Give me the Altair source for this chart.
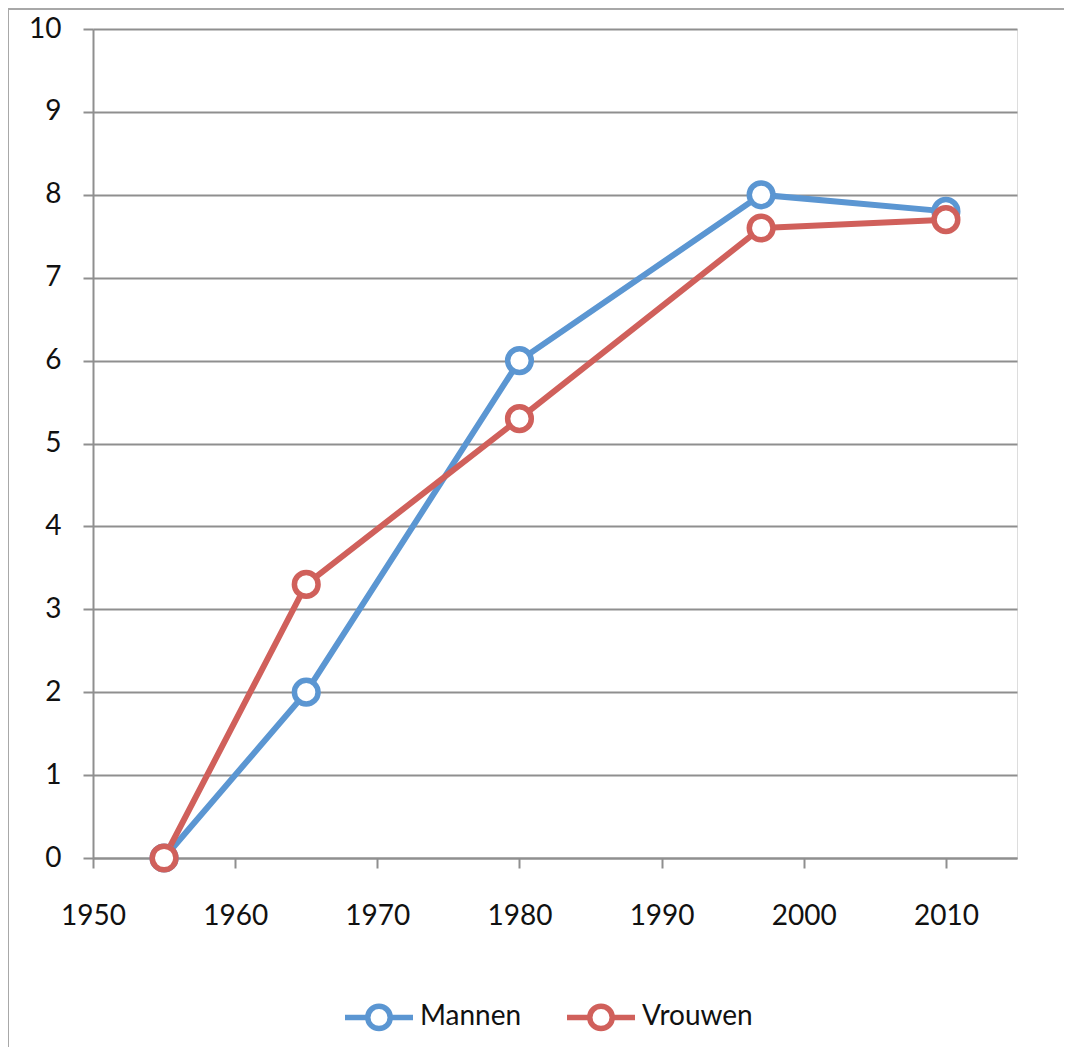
import altair as alt
import pandas as pd

years = [1955, 1965, 1980, 1997, 2010]
mannen = [0, 2, 6, 8, 7.8]
vrouwen = [0, 3.3, 5.3, 7.6, 7.7]
series = ["Mannen", "Vrouwen"]
colors = ["#5b96d2", "#d0605b"]
x_ticks = [1950, 1960, 1970, 1980, 1990, 2000, 2010]

rows = []
for s, vals in zip(series, [mannen, vrouwen]):
    for yr, v in zip(years, vals):
        rows.append({"jaar": yr, "waarde": v, "groep": s})
df = pd.DataFrame(rows)

FONT = "Lato"
GRID = "#8f8f8f"

legend_path = ("M-1,0L-0.33,0M0.33,0L1,0"
               "M-0.33,0A0.33,0.33,0,1,0,0.33,0A0.33,0.33,0,1,0,-0.33,0")

lines = alt.Chart(df).mark_line(
    strokeWidth=6,
    point=alt.OverlayMarkDef(filled=False, fill="white", size=560, strokeWidth=5.5, opacity=1),
).encode(
    x=alt.X("jaar:Q", scale=alt.Scale(domain=[1950, 2015], nice=False, zero=False),
            axis=alt.Axis(values=x_ticks, format="d", title=None, grid=False,
                          domainColor=GRID, domainWidth=2, tickColor=GRID, tickWidth=2,
                          tickSize=10, labelPadding=34, labelFontSize=28,
                          labelFont=FONT, labelColor="#111111", labelFlush=False)),
    y=alt.Y("waarde:Q", scale=alt.Scale(domain=[0, 10], nice=False),
            axis=alt.Axis(values=list(range(0, 11)), title=None, grid=True,
                          gridColor=GRID, gridWidth=2, domainColor=GRID, domainWidth=2,
                          tickColor=GRID, tickWidth=2, tickSize=10, labelPadding=22,
                          labelFontSize=28, labelFont=FONT, labelColor="#111111")),
    color=alt.Color("groep:N", scale=alt.Scale(domain=series, range=colors),
                    legend=alt.Legend(title=None, orient="none", direction="horizontal",
                                      legendX=249, legendY=951,
                                      symbolType=legend_path, symbolSize=4624,
                                      symbolStrokeWidth=5.5, symbolFillColor="white",
                                      labelFontSize=28, labelFont=FONT,
                                      labelColor="#111111", labelOffset=4,
                                      columnPadding=34, symbolOpacity=1)),
)

frame_df = pd.DataFrame({"k": [0]})
frame_left = alt.Chart(frame_df).mark_rule(color="#a8a8a8", strokeWidth=2).encode(
    x=alt.value(-85), y=alt.value(-20), y2=alt.value(1018))
frame_top = alt.Chart(frame_df).mark_rule(color="#a8a8a8", strokeWidth=2).encode(
    x=alt.value(-85), x2=alt.value(971), y=alt.value(-20))

chart = alt.layer(frame_left, frame_top, lines).properties(
    width=924, height=829,
    autosize=alt.AutoSizeParams(type="none"),
    padding={"left": 85, "top": 21, "right": 47, "bottom": 189},
).configure_view(stroke=None).configure(background="white")

chart.save("out.html", embed_options={"renderer": "svg", "actions": False})
